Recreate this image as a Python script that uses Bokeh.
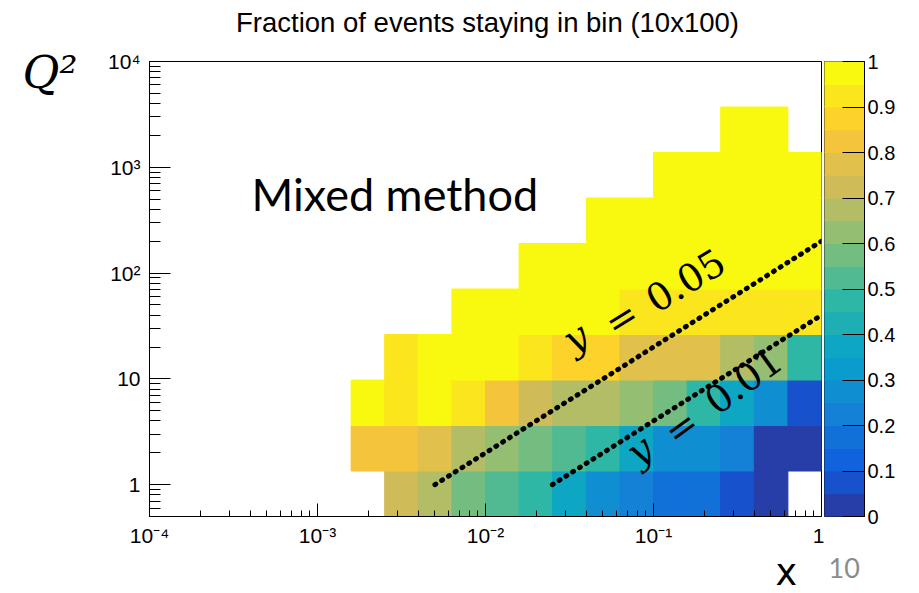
import numpy as np
from bokeh.plotting import figure
from bokeh.models import FixedTicker, Label, Range1d, LinearAxis
from bokeh.layouts import row, column
from bokeh.embed import file_html
from bokeh.resources import INLINE

# ---------------- data ----------------
# binning: 20 log bins in x (1e-4..1), 10 log bins in Q2 (0.5..1e4)
x_bin_edges = [10 ** (-4 + 0.2 * k) for k in range(21)]
q2_bin_edges = list(10 ** np.linspace(np.log10(0.5), 4.0, 11))

# first filled x-bin of each Q2 row (bottom to top) and the fractions in that row
row_first_bin = [7, 6, 6, 7, 9, 11, 13, 15, 17]
frac_row0 = [0.72, 0.68, 0.58, 0.53, 0.48, 0.38, 0.28, 0.23, 0.18, 0.18, 0.08, 0.03]
frac_row1 = [0.83, 0.83, 0.78, 0.68, 0.63, 0.58, 0.53, 0.47, 0.38, 0.28, 0.26, 0.22, 0.03, 0.03]
frac_row2 = [0.98, 0.93, 0.97, 0.93, 0.83, 0.73, 0.68, 0.68, 0.63, 0.58, 0.48, 0.38, 0.28, 0.08]
frac_row3 = [0.93, 0.98, 0.98, 0.98, 0.93, 0.88, 0.86, 0.78, 0.78, 0.78, 0.68, 0.63, 0.48]
frac_row4 = [0.98, 0.98, 0.98, 0.98, 0.98, 0.93, 0.93, 0.93, 0.93, 0.93, 0.93]
frac_row5 = [0.98, 0.98, 0.98, 0.98, 0.98, 0.98, 0.98, 0.98, 0.98]
frac_row6 = [0.98, 0.98, 0.98, 0.98, 0.98, 0.98, 0.98]
frac_row7 = [0.98, 0.98, 0.98, 0.98, 0.98]
frac_row8 = [0.98, 0.98]
frac_rows = [frac_row0, frac_row1, frac_row2, frac_row3, frac_row4,
             frac_row5, frac_row6, frac_row7, frac_row8]

# constant-y lines (Q2 = s x y)
line_x_y005 = [0.005, 1.0]
line_q2_y005 = [1.0, 200.0]
line_x_y001 = [0.025, 1.0]
line_q2_y001 = [1.0, 40.0]

x_major = [1e-4, 1e-3, 1e-2, 1e-1, 1.0]
x_major_labels = ["10\u207b\u2074", "10\u207b\u00b3", "10\u207b\u00b2", "10\u207b\u00b9", "1"]
y_major = [1.0, 10.0, 100.0, 1000.0, 10000.0]
y_major_labels = ["1", "10", "10\u00b2", "10\u00b3", "10\u2074"]
z_major = [0.0, 0.1, 0.2, 0.3, 0.4, 0.5, 0.6, 0.7, 0.8, 0.9, 1.0]
z_major_labels = ["0", "0.1", "0.2", "0.3", "0.4", "0.5", "0.6", "0.7", "0.8", "0.9", "1"]
z_levels = 20

# ---------------- palette (ROOT kBird, 20 contours) ----------------
bird_stops = [0.0, 0.125, 0.25, 0.375, 0.5, 0.625, 0.75, 0.875, 1.0]
bird_r = [0.2082, 0.0592, 0.0780, 0.0232, 0.1802, 0.5301, 0.8186, 0.9956, 0.9764]
bird_g = [0.1664, 0.3599, 0.5041, 0.6419, 0.7178, 0.7492, 0.7328, 0.7862, 0.9832]
bird_b = [0.5293, 0.8684, 0.8385, 0.7914, 0.6425, 0.4662, 0.3499, 0.1968, 0.0539]
palette = []
for i in range(z_levels):
    f = int((i + 0.99) * 255 / z_levels) / 255.0
    r = int(round(255 * np.interp(f, bird_stops, bird_r)))
    g = int(round(255 * np.interp(f, bird_stops, bird_g)))
    b = int(round(255 * np.interp(f, bird_stops, bird_b)))
    palette.append("#%02x%02x%02x" % (r, g, b))

lefts, rights, bottoms, tops, colors = [], [], [], [], []
for j, (k0, vals) in enumerate(zip(row_first_bin, frac_rows)):
    for i, v in enumerate(vals):
        k = k0 + i
        lefts.append(x_bin_edges[k])
        rights.append(x_bin_edges[k + 1])
        bottoms.append(q2_bin_edges[j])
        tops.append(q2_bin_edges[j + 1])
        colors.append(palette[min(int(v * z_levels), z_levels - 1)])

# ---------------- layout sizes ----------------
TOP_H, MID_H, BOT_H = 40, 510, 43
MAIN_W, CB_W = 824, 80
TOTAL_W = MAIN_W + CB_W
B_TOP, B_BOT = 21, 34
FRAME_H = MID_H - B_TOP - B_BOT


def blank(w, h):
    f = figure(width=w, height=h, x_range=Range1d(0, 1), y_range=Range1d(0, 1),
               x_axis_location=None, y_axis_location=None,
               output_backend="svg", toolbar_location=None, min_border=0)
    f.outline_line_color = None
    f.background_fill_color = "white"
    f.border_fill_color = "white"
    f.grid.visible = False
    return f


def lab(text, x, y, size, font="Liberation Sans", style="normal", color="black",
        align="left", angle=0.0):
    return Label(x=x, y=y, x_units="screen", y_units="screen", text=text,
                 text_font=font, text_font_style=style, text_font_size=size,
                 text_color=color, text_align=align, text_baseline="middle",
                 angle=angle)


# ---------------- main figure ----------------
p = figure(width=MAIN_W, height=MID_H, x_axis_type="log", y_axis_type="log",
           x_range=Range1d(1e-4, 1.0), y_range=Range1d(0.5, 1e4),
           output_backend="svg", toolbar_location=None,
           min_border_left=149, min_border_right=3, min_border_top=B_TOP,
           min_border_bottom=B_BOT)
p.background_fill_color = "white"
p.border_fill_color = "white"
p.outline_line_color = "black"
p.outline_line_width = 1
p.xgrid.visible = False
p.ygrid.visible = False

p.quad(left=lefts, right=rights, bottom=bottoms, top=tops,
       fill_color=colors, line_color=colors, line_width=1)

p.line(line_x_y005, line_q2_y005, line_color="black", line_width=5,
       line_dash="1 7", line_cap="round")
p.line(line_x_y001, line_q2_y001, line_color="black", line_width=5,
       line_dash="1 7", line_cap="round")

x_minor = [m * 10.0 ** e for e in range(-4, 0) for m in range(2, 10)]
y_minor = [0.6, 0.7, 0.8, 0.9] + [m * 10.0 ** e for e in range(0, 4) for m in range(2, 10)]
p.xaxis.ticker = FixedTicker(ticks=x_major, minor_ticks=x_minor)
p.yaxis.ticker = FixedTicker(ticks=y_major, minor_ticks=y_minor)
p.xaxis.major_label_overrides = dict(zip(x_major, x_major_labels))
p.yaxis.major_label_overrides = dict(zip(y_major, y_major_labels))
for ax in (p.xaxis[0], p.yaxis[0]):
    ax.axis_line_color = "black"
    ax.major_tick_line_color = "black"
    ax.minor_tick_line_color = "black"
    ax.major_tick_out = 0
    ax.minor_tick_out = 0
    ax.major_label_text_font = "Liberation Sans"
    ax.major_label_text_font_size = "21px"
    ax.major_label_text_color = "black"
p.xaxis.major_tick_in = 13
p.xaxis.minor_tick_in = 6
p.xaxis.major_label_standoff = 7
p.yaxis.major_tick_in = 21
p.yaxis.minor_tick_in = 11
p.yaxis.major_label_standoff = 9

# the "Q²" axis title, carried by an outer left axis (pixel range of the frame)
p.extra_y_ranges = {"qlab": Range1d(0, FRAME_H)}
q_tick = FRAME_H
qax = LinearAxis(y_range_name="qlab", ticker=FixedTicker(ticks=[q_tick], minor_ticks=[]),
                 major_label_overrides={q_tick: "Q\u00b2"})
qax.axis_line_color = None
qax.major_tick_line_color = None
qax.minor_tick_line_color = None
qax.major_tick_out = 0
qax.major_tick_in = 0
qax.major_label_text_font = "DejaVu Serif"
qax.major_label_text_font_style = "italic"
qax.major_label_text_font_size = "45px"
qax.major_label_text_color = "black"
qax.major_label_standoff = 28
p.add_layout(qax, "left")

# frame bottom-left in window coordinates (for in-frame annotations)
FX0, FY0 = 149, 516


def flab(text, wx, wy, size, **kw):
    return lab(text, wx - FX0, FY0 - wy, size, **kw)


p.add_layout(flab("Mixed method", 251, 193, "45px", font="Lato"))

serif = "DejaVu Serif"
a1 = np.deg2rad(31.5)
for t, cx, cy, st in (("y", 575, 337, "italic"), ("=", 621, 318, "normal"),
                      ("0.05", 685, 280, "normal")):
    p.add_layout(flab(t, cx, cy, "38px", font=serif, style=st, align="center", angle=a1))
a2 = np.deg2rad(36)
for t, cx, cy, st in (("y", 639, 450, "italic"), ("=", 681, 427, "normal"),
                      ("0.01", 743, 380, "normal")):
    p.add_layout(flab(t, cx, cy, "38px", font=serif, style=st, align="center", angle=a2))

# ---------------- colour bar ----------------
cb = figure(width=CB_W, height=MID_H, x_range=Range1d(0, 1), y_range=Range1d(0, 1),
            output_backend="svg", toolbar_location=None, y_axis_location="right",
            min_border_left=0, min_border_right=40, min_border_top=B_TOP,
            min_border_bottom=B_BOT)
cb.background_fill_color = "white"
cb.border_fill_color = "white"
cb.outline_line_color = "black"
cb.xgrid.visible = False
cb.ygrid.visible = False
cb.xaxis.visible = False
lev_lo = [i / z_levels for i in range(z_levels)]
lev_hi = [(i + 1) / z_levels for i in range(z_levels)]
cb.quad(left=0, right=1, bottom=lev_lo, top=lev_hi,
        fill_color=palette, line_color=palette, line_width=1)
cb.yaxis.ticker = FixedTicker(ticks=z_major, minor_ticks=[])
cb.yaxis.major_label_overrides = dict(zip(z_major, z_major_labels))
cb.yaxis.axis_line_color = "black"
cb.yaxis.major_tick_line_color = "black"
cb.yaxis.major_tick_in = 22
cb.yaxis.major_tick_out = 0
cb.yaxis.minor_tick_line_color = None
cb.yaxis.major_label_text_font = "Liberation Sans"
cb.yaxis.major_label_text_font_size = "20px"
cb.yaxis.major_label_text_color = "black"
cb.yaxis.major_label_standoff = 3

# ---------------- surrounding texts ----------------
top_fig = blank(TOTAL_W, TOP_H)
top_fig.add_layout(lab("Fraction of events staying in bin (10x100)", 487, TOP_H - 21.5,
                       "27.5px", align="center"))

bot_fig = blank(TOTAL_W, BOT_H)
y0 = TOP_H + MID_H + BOT_H
bot_fig.add_layout(lab("x", 775, y0 - 571.5, "36.5px", font="DejaVu Sans"))
bot_fig.add_layout(lab("10", 828, y0 - 567, "27px", font="Lato", color="#8c8c8c"))

layout = column(top_fig, row(p, cb), bot_fig)
open("out.html", "w").write(file_html(layout, INLINE))
